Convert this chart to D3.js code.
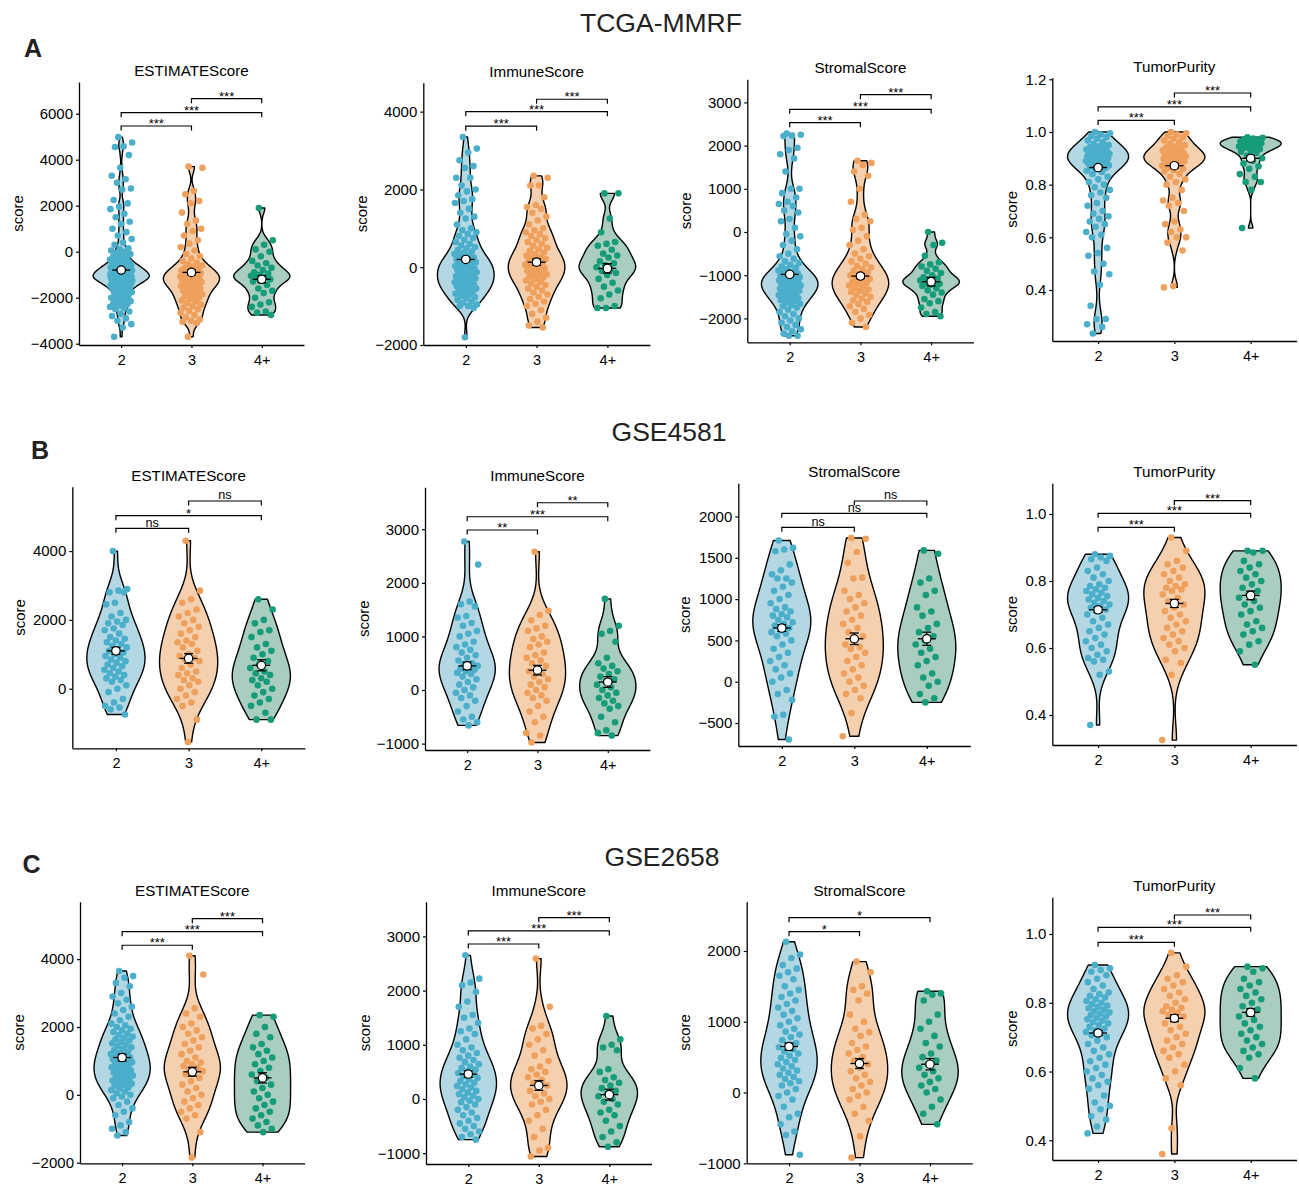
<!DOCTYPE html>
<html><head><meta charset="utf-8">
<script src="https://cdn.jsdelivr.net/npm/d3@7"></script>
<style>body{margin:0;background:#fff;} text{font-family:Arial,"Liberation Sans",sans-serif;}</style>
</head><body><svg id="c" width="1299" height="1188"></svg>
<script>
// ---------------- DATA ----------------
const groups = ["2","3","4+"];
const datasets = ["TCGA-MMRF","GSE4581","GSE2658"];
const scores = ["ESTIMATEScore","ImmuneScore","StromalScore","TumorPurity"];
const panelLetters = ["A","B","C"];
const comparisons = [["2","3"],["2","4+"],["3","4+"]];

// TCGA-MMRF
const tcgaEstimate = [
 [4980,4750,4580,4550,4200,3650,3300,3150,3000,2750,2700,2250,2100,1950,1850,1650,1500,1300,1200,1000,850,700,550,400,300,150,
  100,50,0,-50,-100,-150,-200,-250,-300,-340,-380,-420,-460,-500,
  -520,-540,-560,-580,-600,-620,-640,-660,-680,-700,-715,-730,-745,-760,-775,-790,-805,-820,-835,-850,-865,-880,-895,-910,-925,-940,-955,-970,-985,-1000,-1010,-1020,-1030,-1040,-1050,-1060,-1070,-1080,-1090,-1100,-1110,-1120,-1130,-1140,-1150,-1165,-1180,-1195,-1210,-1225,-1240,-1255,-1270,-1285,-1300,-1320,-1340,-1360,-1380,-1400,-1420,-1440,-1460,-1480,-1500,-1530,-1560,-1590,-1620,-1650,
  -1700,-1750,-1800,-1850,-1900,-1950,-2000,-2050,-2100,-2150,-2200,-2250,-2300,-2350,-2400,-2450,-2500,-2600,-2700,-2800,-2900,-3000,-3150,-3300,-3700],
 [3700,3650,2650,2500,2200,2100,1700,1350,1200,1000,900,700,500,350,200,50,-100,-200,-300,-400,-480,-550,-600,-650,-700,-740,-780,-820,-860,-900,-930,-960,-990,-1020,-1050,-1080,-1110,-1140,-1170,-1200,-1230,-1260,-1290,-1320,-1350,-1380,-1410,-1440,-1480,-1520,-1560,-1600,-1650,-1700,-1750,-1800,-1850,-1900,-1950,-2000,-2060,-2120,-2180,-2240,-2300,-2360,-2420,-2500,-2580,-2660,-2750,-2850,-2950,-3000,-3050,-3100,-3700],
 [1900,500,300,100,0,-200,-400,-500,-600,-700,-800,-900,-950,-1000,-1050,-1100,-1150,-1200,-1250,-1300,-1450,-1600,-1700,-1800,-2000,-2200,-2300,-2400,-2600,-2650,-2750]
];
const tcgaImmune = [
 [3350,3050,2950,2750,2600,2550,2300,2300,2100,2000,1950,1850,1750,1700,1650,1500,1400,1300,1250,1100,1000,950,900,850,800,750,700,650,600,560,520,480,440,400,370,340,310,280,250,225,200,175,150,130,110,90,70,50,30,10,-10,-30,-50,-70,-90,-110,-130,-150,-170,-190,-210,-230,-250,-270,-290,-310,-330,-350,-370,-390,-410,-430,-450,-470,-490,-510,-530,-550,-575,-600,-625,-650,-680,-710,-740,-770,-800,-840,-880,-920,-960,-1000,-1000,-1050,-1800],
 [2350,2300,2100,2100,1800,1600,1550,1500,1400,1300,1200,1100,1000,950,900,850,800,750,700,650,600,550,500,460,420,380,340,300,270,240,210,180,150,120,90,60,30,0,-30,-60,-90,-120,-150,-180,-210,-240,-270,-300,-340,-380,-420,-460,-500,-550,-600,-650,-700,-760,-820,-880,-940,-1000,-1100,-1200,-1300,-1400,-1500,-1550],
 [1900,1900,1250,900,650,600,550,450,350,300,250,150,100,50,0,-50,-100,-150,-200,-300,-400,-500,-600,-700,-800,-1000,-1050,-1050]
];
const tcgaStromal = [
 [2280,2250,2230,2220,1950,1900,1800,1700,1400,1000,1000,900,800,700,650,600,500,450,300,250,100,-50,-100,-200,-300,-400,-500,-560,-620,-680,-720,-760,-800,-830,-860,-890,-920,-940,-960,-980,-1000,-1015,-1030,-1045,-1060,-1075,-1090,-1105,-1120,-1135,-1150,-1165,-1180,-1195,-1210,-1225,-1240,-1255,-1270,-1285,-1300,-1315,-1330,-1345,-1360,-1380,-1400,-1420,-1440,-1460,-1480,-1500,-1525,-1550,-1575,-1600,-1630,-1660,-1690,-1720,-1750,-1800,-1850,-1900,-1950,-2000,-2050,-2100,-2150,-2200,-2250,-2300,-2350,-2400,-2400],
 [1650,1600,1550,1400,1300,1000,700,400,300,250,100,50,-100,-200,-300,-400,-500,-560,-620,-680,-730,-780,-820,-860,-900,-940,-970,-1000,-1030,-1060,-1090,-1120,-1150,-1180,-1210,-1240,-1270,-1300,-1330,-1360,-1390,-1420,-1460,-1500,-1540,-1580,-1620,-1670,-1720,-1780,-1850,-1920,-2000,-2100,-2200],
 [0,-250,-300,-550,-700,-750,-800,-850,-900,-950,-1000,-1050,-1080,-1100,-1120,-1150,-1180,-1200,-1220,-1250,-1300,-1350,-1400,-1450,-1550,-1600,-1650,-1750,-1850,-1900,-1950]
];
const tcgaPurity = [
 [1.0,0.995,0.99,0.985,0.98,0.974,0.968,0.962,0.956,0.95,0.946,0.942,0.939,0.936,0.933,0.931,0.929,0.927,0.925,0.923,0.921,0.919,0.917,0.915,0.913,0.911,0.909,0.907,0.905,0.903,0.901,0.899,0.897,0.895,0.893,0.891,0.889,0.887,0.885,0.883,0.881,0.879,0.876,0.873,0.87,0.866,0.862,0.858,0.853,0.848,
  0.84,0.83,0.82,0.81,0.8,0.79,0.78,0.77,0.76,0.75,0.73,0.72,0.7,0.69,0.68,0.67,0.66,0.65,0.64,0.62,0.61,0.6,0.56,0.54,0.53,0.5,0.47,0.46,0.42,0.34,0.29,0.29,0.27,0.26,0.235],
 [1.0,0.995,0.99,0.985,0.98,0.974,0.968,0.962,0.956,0.95,0.946,0.942,0.938,0.934,0.93,0.927,0.924,0.921,0.918,0.915,0.912,0.91,0.908,0.906,0.904,0.902,0.9,0.897,0.894,0.891,0.888,0.885,0.882,0.879,0.876,0.872,0.868,0.864,0.86,0.855,0.85,0.84,0.83,0.82,0.81,0.8,0.78,0.75,0.74,0.73,0.72,0.7,0.66,0.65,0.63,0.62,0.6,0.6,0.58,0.55,0.415,0.41],
 [0.98,0.978,0.975,0.972,0.97,0.967,0.965,0.962,0.96,0.957,0.955,0.952,0.95,0.947,0.945,0.942,0.94,0.935,0.93,0.925,0.92,0.91,0.9,0.89,0.88,0.87,0.86,0.84,0.83,0.81,0.81,0.78,0.635]
];
const tcgaMeans = [[-800,-900,-1200],[200,130,-30],[-980,-1020,-1150],[0.865,0.872,0.9]];
const tcgaSE = [[60,100,150],[50,80,120],[40,60,100],[0.006,0.008,0.01]];
const tcgaSig = [["***","***","***"],["***","***","***"],["***","***","***"],["***","***","***"]];
const tcgaSigY = [[5465,6043,6652],[3627,4000,4319],[2530,2840,3180],[1.044,1.095,1.148]];
const tcgaDomains = [[-4057,7378],[-2000,4745],[-2553,3535],[0.2065,1.206]];
const tcgaTicks = [[-4000,-2000,0,2000,4000,6000],[-2000,0,2000,4000],[-2000,-1000,0,1000,2000,3000],[0.4,0.6,0.8,1.0,1.2]];

// GSE4581
const g4581Estimate = [
 [4000,2900,2850,2800,2800,2500,2450,2200,2100,2000,1950,1900,1850,1750,1700,1600,1500,1450,1400,1350,1300,1250,1200,1150,1100,1050,1000,950,900,850,800,750,700,650,600,550,500,450,400,350,300,250,200,100,0,-100,-300,-400,-500,-550,-600,-750],
 [4300,2850,2600,2500,2300,2200,2100,2000,1900,1800,1700,1600,1500,1400,1350,1300,1200,1100,1000,950,900,850,800,700,600,500,450,400,300,250,200,100,0,-100,-200,-300,-400,-500,-900,-1550],
 [2600,2300,2000,1900,1700,1650,1500,1300,1200,1100,1000,900,800,700,600,500,450,400,300,250,200,100,0,-100,-200,-300,-400,-500,-700,-900,-900]
];
const g4581Immune = [
 [2770,2340,1650,1600,1560,1380,1350,1250,1200,1100,1050,1000,900,850,800,750,700,650,600,550,500,480,450,420,400,380,350,320,300,250,200,150,100,50,0,-50,-100,-150,-200,-300,-400,-500,-550,-600,-660],
 [2580,1480,1400,1300,1200,1150,1100,1000,950,900,850,800,700,650,600,550,500,450,400,350,300,250,200,150,100,50,0,-50,-100,-150,-200,-300,-400,-500,-600,-800,-850,-980],
 [1700,1200,1100,1050,900,600,500,450,400,350,300,250,200,150,100,50,0,-50,-100,-150,-200,-250,-300,-350,-500,-600,-750,-800,-850]
];
const g4581Stromal = [
 [1710,1620,1600,1580,1420,1350,1300,1250,1250,1200,1150,1100,1050,1000,950,900,880,850,820,800,780,750,720,700,680,650,620,600,580,550,500,450,400,350,300,250,200,150,100,50,0,-100,-150,-220,-400,-420,-700],
 [1740,1730,1570,1440,1260,1250,1100,1050,1000,950,900,850,800,750,700,650,600,550,500,450,420,400,350,300,250,200,150,100,50,0,-50,-100,-150,-200,-380,-660],
 [1590,1550,1250,1200,1100,1050,900,850,800,700,650,600,550,500,450,400,350,300,250,200,100,50,0,-50,-150,-200,-250]
];
const g4581Purity = [
 [0.88,0.875,0.87,0.865,0.86,0.84,0.83,0.82,0.81,0.8,0.79,0.785,0.78,0.775,0.77,0.765,0.76,0.755,0.75,0.745,0.74,0.735,0.73,0.725,0.72,0.715,0.71,0.7,0.69,0.68,0.67,0.66,0.65,0.64,0.63,0.62,0.61,0.6,0.59,0.58,0.57,0.565,0.56,0.53,0.52,0.37],
 [0.93,0.89,0.86,0.85,0.84,0.83,0.82,0.81,0.8,0.79,0.785,0.78,0.775,0.77,0.76,0.75,0.74,0.73,0.72,0.71,0.7,0.69,0.68,0.67,0.66,0.65,0.64,0.63,0.62,0.61,0.6,0.59,0.565,0.555,0.52,0.325],
 [0.89,0.89,0.885,0.86,0.85,0.84,0.83,0.82,0.81,0.8,0.79,0.78,0.77,0.76,0.75,0.74,0.73,0.72,0.71,0.7,0.68,0.67,0.66,0.65,0.64,0.62,0.61,0.59,0.55]
];
const g4581Means = [[1100,880,680],[450,370,150],[650,520,520],[0.714,0.733,0.757]];
const g4581SE = [[100,140,160],[70,90,100],[40,70,80],[0.008,0.012,0.013]];
const g4581Sig = [["ns","*","ns"],["**","***","**"],["ns","ns","ns"],["***","***","***"]];
const g4581SigY = [[4663,5029,5457],[2985,3233,3494],[1869,2039,2188],[0.9602,1.002,1.0397]];
const g4581Domains = [[-1733,5872],[-1119,3782],[-778,2402],[0.3104,1.0917]];
const g4581Ticks = [[0,2000,4000],[-1000,0,1000,2000,3000],[-500,0,500,1000,1500,2000],[0.4,0.6,0.8,1.0]];

// GSE2658
const g2658Estimate = [
 [3650,3500,3450,3300,3200,3000,2900,2800,2700,2600,2500,2400,2300,2200,2100,2050,2000,1950,1900,1850,1800,1760,1720,1680,1640,1600,1560,1520,1480,1440,1400,1360,1320,1280,1240,1200,1170,1140,1110,1080,1050,1020,990,960,930,900,870,840,810,780,750,720,690,660,630,600,570,540,510,480,450,420,390,360,330,300,260,220,180,140,100,50,0,-50,-100,-200,-300,-400,-500,-600,-800,-900,-1000,-1100,-1200],
 [4100,3550,2550,2400,2300,2100,2000,1900,1800,1700,1600,1500,1400,1300,1200,1100,1000,950,900,850,800,750,700,650,600,500,400,300,200,100,0,-100,-200,-300,-400,-500,-600,-700,-1100,-1850],
 [2350,2300,2000,1800,1700,1500,1400,1300,1200,1100,1000,900,800,700,600,500,400,300,200,100,0,-100,-200,-300,-400,-500,-600,-700,-800,-900,-1000,-1100]
];
const g2658Immune = [
 [2650,2220,2150,2100,1980,1800,1700,1550,1500,1400,1300,1250,1200,1100,1000,950,900,850,800,760,720,680,640,600,570,540,510,480,450,420,390,360,330,300,270,240,210,180,150,120,90,60,30,0,-30,-60,-100,-150,-200,-250,-300,-350,-400,-450,-500,-550,-600,-650,-700,-750],
 [2590,1700,1350,1300,1200,1100,1000,900,800,700,600,550,500,450,400,350,300,250,200,150,100,50,0,-50,-100,-200,-300,-400,-550,-700,-900,-950,-1060],
 [1530,1100,1000,950,900,550,500,400,350,300,250,200,150,100,50,0,-50,-100,-200,-250,-300,-400,-500,-600,-700,-800,-880]
];
const g2658Stromal = [
 [2130,1950,1900,1800,1750,1700,1650,1600,1500,1450,1400,1350,1300,1250,1200,1150,1100,1050,1000,950,900,860,820,780,740,700,670,640,610,580,550,520,490,460,430,400,370,340,310,280,250,220,190,160,130,100,50,0,-50,-100,-200,-300,-350,-450,-550,-600,-880],
 [1850,1700,1500,1450,1400,1300,1100,1000,900,850,800,700,650,600,550,500,450,400,350,300,250,200,150,100,50,0,-50,-100,-200,-300,-400,-620,-920],
 [1430,1400,1380,1300,1100,1000,900,800,700,650,550,500,450,400,350,300,250,200,150,100,50,0,-100,-200,-300,-450]
];
const g2658Purity = [
 [0.91,0.9,0.895,0.89,0.88,0.87,0.86,0.85,0.84,0.83,0.825,0.82,0.815,0.81,0.805,0.8,0.796,0.792,0.788,0.784,0.78,0.776,0.772,0.768,0.764,0.76,0.756,0.752,0.748,0.744,0.74,0.735,0.73,0.725,0.72,0.715,0.71,0.705,0.7,0.69,0.68,0.67,0.66,0.65,0.64,0.63,0.62,0.61,0.6,0.59,0.58,0.57,0.56,0.55,0.53,0.51,0.5,0.49,0.47,0.46,0.44,0.42],
 [0.945,0.905,0.88,0.87,0.86,0.85,0.84,0.83,0.82,0.81,0.8,0.79,0.785,0.78,0.775,0.77,0.765,0.76,0.75,0.74,0.73,0.72,0.71,0.7,0.69,0.68,0.67,0.66,0.65,0.64,0.62,0.6,0.58,0.56,0.435,0.36],
 [0.905,0.9,0.89,0.87,0.86,0.85,0.84,0.83,0.82,0.81,0.8,0.79,0.78,0.77,0.76,0.75,0.74,0.73,0.72,0.71,0.7,0.69,0.68,0.67,0.66,0.65,0.64,0.61,0.58]
];
const g2658Means = [[1100,680,500],[460,250,80],[650,410,400],[0.712,0.755,0.772]];
const g2658SE = [[100,130,150],[60,90,100],[50,70,80],[0.007,0.01,0.011]];
const g2658Sig = [["***","***","***"],["***","***","***"],["*","*",null],["***","***","***"]];
const g2658SigY = [[4410,4811,5193],[2860,3100,3345],[2272,2470,null],[0.9758,1.0194,1.0552]];
const g2658Domains = [[-2018,5694],[-1199,3640],[-1000,2696],[0.3427,1.1067]];
const g2658Ticks = [[-2000,0,2000,4000],[-1000,0,1000,2000,3000],[-1000,0,1000,2000],[0.4,0.6,0.8,1.0]];

// ---------------- ASSEMBLY ----------------
const rows = [
 {values:[tcgaEstimate,tcgaImmune,tcgaStromal,tcgaPurity], means:tcgaMeans, se:tcgaSE, sig:tcgaSig, sigY:tcgaSigY, dom:tcgaDomains, ticks:tcgaTicks, adjust:0.6},
 {values:[g4581Estimate,g4581Immune,g4581Stromal,g4581Purity], means:g4581Means, se:g4581SE, sig:g4581Sig, sigY:g4581SigY, dom:g4581Domains, ticks:g4581Ticks, adjust:1},
 {values:[g2658Estimate,g2658Immune,g2658Stromal,g2658Purity], means:g2658Means, se:g2658SE, sig:g2658Sig, sigY:g2658SigY, dom:g2658Domains, ticks:g2658Ticks, adjust:0.9}
];

// layout (pixel boxes): left axis x, top, bottom, category step
const layout = [
 [{l:79,t:82,b:345,s:70.3},{l:423.3,t:82.7,b:345,s:70.8},{l:747.3,t:79.3,b:342.3,s:70.7},{l:1052.3,t:77.7,b:341,s:76.3}],
 [{l:72.3,t:486.7,b:748.3,s:72.7},{l:425,t:487.3,b:750,s:70.3},{l:738.3,t:483.3,b:746,s:72.5},{l:1052.3,t:483.3,b:745,s:76.3}],
 [{l:80,t:901.7,b:1163.3,s:70.2},{l:426,t:901.7,b:1164,s:70.5},{l:746.7,t:901.7,b:1163.3,s:70.5},{l:1052.3,t:897.3,b:1160,s:76.3}]
];
const rowTitle = [{x:661,y:32},{x:669,y:441},{x:662,y:866}];
const letterPos = [{x:24,y:57},{x:31,y:459},{x:22.5,y:873}];

const fillCols = ["#B3D8E3","#F5D0AE","#A9CDBE"];
const ptCols = ["#4BAFCB","#EEA05C","#179C7A"];

const svg = d3.select("#c");

function nrd0(v){
  const s = v.slice().sort(d3.ascending);
  const sd = d3.deviation(s);
  const iqr = d3.quantile(s,0.75) - d3.quantile(s,0.25);
  let lo = Math.min(sd, iqr/1.34);
  if(!(lo>0)) lo = sd || 1;
  return 0.9*lo*Math.pow(s.length,-0.2);
}
function kde(v, adjust){
  const bw = nrd0(v)*adjust, mn = d3.min(v), mx = d3.max(v), N = 300;
  const out = [];
  for(let i=0;i<N;i++){
    const y = mn + (mx-mn)*i/(N-1);
    let d = 0;
    for(const x of v){ const z=(y-x)/bw; d += Math.exp(-0.5*z*z); }
    out.push({y, d});
  }
  const m = d3.max(out, p=>p.d);
  out.forEach(p=>p.d/=m);
  return out;
}

function drawPanel(ri, ci){
  const R = rows[ri], box = layout[ri][ci];
  const right = box.l + 3.2*box.s;
  const x = d3.scalePoint().domain(groups).range([box.l, right]).padding(0.6);
  const y = d3.scaleLinear().domain(R.dom[ci]).range([box.b, box.t]);
  const g = svg.append("g");
  const fmt = ci===3 ? d3.format(".1f") : d3.format("d");
  const halfW = 0.4*box.s;

  groups.forEach((grp, gi)=>{
    const vals = R.values[ci][gi];
    const dens = kde(vals, R.adjust);
    const cx = x(grp);
    const area = d3.area().y(p=>y(p.y)).x0(p=>cx - p.d*halfW).x1(p=>cx + p.d*halfW).curve(d3.curveBasis);
    g.append("path").attr("d", area(dens)).attr("fill", fillCols[gi])
      .attr("stroke","#000").attr("stroke-width",1.4).attr("stroke-linejoin","round");
  });
  groups.forEach((grp, gi)=>{
    const vals = R.values[ci][gi];
    const cx = x(grp);
    const jw = 0.16*box.s;
    g.append("g").selectAll("circle").data(vals).join("circle")
      .attr("cx",(d,i)=> cx + (((i*0.61803398875 + 0.37) % 1) - 0.5)*2*jw)
      .attr("cy", d=>y(d)).attr("r",3.3).attr("fill", ptCols[gi]);
  });
  groups.forEach((grp, gi)=>{
    const cx = x(grp), m = R.means[ci][gi], se = R.se[ci][gi];
    const mg = g.append("g").attr("stroke","#000").attr("stroke-width",1.3);
    mg.append("line").attr("x1",cx-9).attr("x2",cx+9).attr("y1",y(m)).attr("y2",y(m));
    mg.append("line").attr("x1",cx).attr("x2",cx).attr("y1",y(m-se)).attr("y2",y(m+se));
    [m-se, m+se].forEach(v=> mg.append("line").attr("x1",cx-4.5).attr("x2",cx+4.5).attr("y1",y(v)).attr("y2",y(v)));
    mg.append("circle").attr("cx",cx).attr("cy",y(m)).attr("r",4.2).attr("fill","#fff").attr("stroke-width",1.2);
  });
  const ya = g.append("g").attr("transform",`translate(${box.l},0)`)
    .call(d3.axisLeft(y).tickValues(R.ticks[ci]).tickFormat(fmt).tickSize(3).tickSizeOuter(0).tickPadding(3));
  const xa = g.append("g").attr("transform",`translate(0,${box.b})`)
    .call(d3.axisBottom(x).tickSize(3).tickSizeOuter(0).tickPadding(6.5));
  [ya, xa].forEach(a=>{
    a.select(".domain").attr("stroke","#000").attr("stroke-width",1.3);
    a.selectAll(".tick line").attr("stroke","#000").attr("stroke-width",1.2);
    a.selectAll("text").attr("fill","#000").attr("font-family","Arial, 'Liberation Sans', sans-serif");
  });
  ya.selectAll("text").attr("font-size","15px");
  xa.selectAll("text").attr("font-size","14.5px");
  const bb = ya.node().getBBox();
  g.append("text").attr("transform",`translate(${box.l + bb.x - 13.5},${(box.t+box.b)/2}) rotate(-90)`)
    .attr("dy","0.35em").attr("text-anchor","middle").attr("font-size","15px").text("score");
  g.append("text").attr("x",(box.l+right)/2).attr("y",box.t-6).attr("text-anchor","middle")
    .attr("font-size","15.2px").text(scores[ci]);
  comparisons.forEach((cmp, k)=>{
    const lab = R.sig[ci][k];
    if(lab==null) return;
    const yy = y(R.sigY[ci][k]), x1 = x(cmp[0]), x2 = x(cmp[1]);
    g.append("path").attr("d",`M${x1},${yy+4.5}V${yy}H${x2}V${yy+4.5}`)
      .attr("fill","none").attr("stroke","#000").attr("stroke-width",1.2);
    const isNs = lab==="ns";
    g.append("text").attr("x",(x1+x2)/2).attr("y", isNs ? yy-1.5 : yy+2).attr("text-anchor","middle")
      .attr("font-size", isNs ? "12.6px" : "13px").text(lab);
  });
}

datasets.forEach((ds, ri)=>{
  svg.append("text").attr("x",rowTitle[ri].x).attr("y",rowTitle[ri].y).attr("text-anchor","middle")
    .attr("font-size","26.5px").attr("fill","#222").text(ds);
  svg.append("text").attr("x",letterPos[ri].x).attr("y",letterPos[ri].y)
    .attr("font-size","25px").attr("font-weight","bold").attr("fill","#222").text(panelLetters[ri]);
  scores.forEach((s, ci)=> drawPanel(ri, ci));
});
</script></body></html>
